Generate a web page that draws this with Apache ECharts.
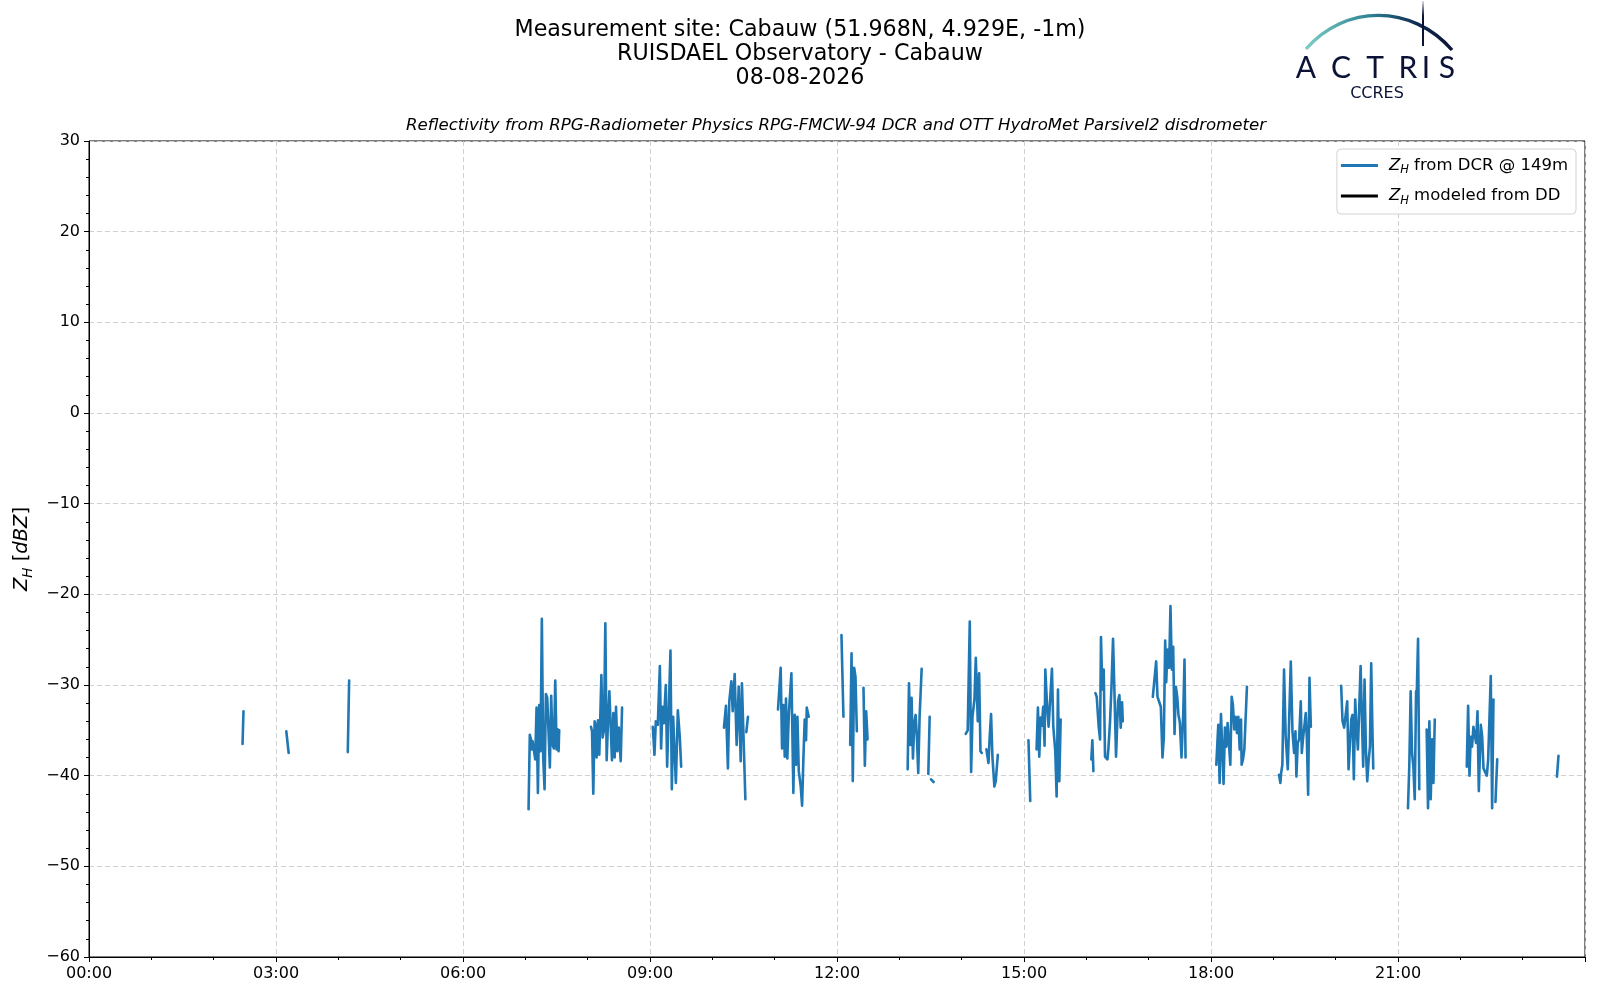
<!DOCTYPE html>
<html>
<head>
<meta charset="utf-8">
<script src="https://cdn.jsdelivr.net/npm/echarts@6/dist/echarts.min.js"></script>
<style>html,body{margin:0;padding:0;background:#fff}#c{width:1600px;height:1000px}</style>
</head>
<body>
<div id="c"></div>
<script>
// ---- data (time in minutes after 00:00 UTC, Z_H in dBZ; null = no data / gap) ----
const titleLines = ['Measurement site: Cabauw (51.968N, 4.929E, -1m)', 'RUISDAEL Observatory - Cabauw', '08-08-2026'];
const subTitle = 'Reflectivity from RPG-Radiometer Physics RPG-FMCW-94 DCR and OTT HydroMet Parsivel2 disdrometer';
const seriesNames = ['Z_H from DCR @ 149m', 'Z_H modeled from DD'];
const xTickMinutes = [0, 180, 360, 540, 720, 900, 1080, 1260];
const yTicks = [-60, -50, -40, -30, -20, -10, 0, 10, 20, 30];

const dcrTime = [
  147.8, 148.7, 170,
  189.9, 192.2, 220,
  249.1, 250.4, 330,
  423.1, 424.3, 425.5, 426.3, 427.0, 429.5, 430.8, 432.1, 433.4, 434.6, 435.9, 437.2, 438.5, 439.8, 441.1, 443.6, 444.9, 446.2, 447.5, 448.8, 450.1, 451.4, 452.0, 452.6, 470,
  483.2, 484.2, 485.4, 486.7, 488.0, 488.6, 489.9, 491.2, 493.2, 494.4, 495.7, 497.0, 498.3, 499.6, 500.9, 502.2, 503.4, 504.7, 506.0, 507.3, 508.6, 509.9, 511.8, 513.1, 530,
  542.7, 544.3, 545.6, 547.5, 549.5, 550.7, 552.0, 553.3, 555.2, 556.5, 557.8, 559.7, 561.0, 562.3, 563.6, 564.9, 566.8, 568.7, 570.0, 590,
  611.2, 613.1, 615.0, 616.3, 618.3, 619.6, 621.5, 623.4, 625.4, 627.3, 628.5, 631.8, 632.2,
  632.7, 634.3, 650,
  663.2, 665.8, 667.1, 668.4, 669.7, 670.9, 672.2, 673.6, 676.1, 678.0, 679.3, 680.6, 681.9, 683.2, 685.1, 686.4, 687.7, 688.9, 690.2, 690.9, 692.8, 710,
  724.3, 726.2, 729,
  732.7, 734.0, 735.2, 736.5, 737.8, 739.1, 742,
  745.5, 746.8, 748.1, 749.4, 770,
  788.0, 789.3, 790.5, 791.8, 793.1, 794.4, 795.7, 797.0, 798.2, 799.5, 801.5, 805,
  807.9, 809.2, 809.8,
  810.5, 813.0, 830,
  843.9, 845.8, 847.8, 849.1, 850.4, 852.3, 853.6, 855.5, 856.8, 858.1, 859.4, 861,
  863.8, 865.8, 867.0, 868.3, 869.6, 871.5, 872.8, 874.8, 890,
  904.3, 906.0, 909,
  912.1, 913.4, 914.7, 916.0, 917.2, 918.5, 919.8, 920.5, 922.4, 923.7, 925.6, 926.9, 928.2, 930.1, 931.4, 932.7, 934.0, 935.3, 950,
  964.8, 965.8, 966.8, 967.7,
  968.7, 970.0, 971.9, 973.2, 974.1, 975.4, 976.7, 978.0, 979.3, 980.3, 981.2, 982.8, 984.1, 985.7, 987.0, 988.6, 990.5, 991.8, 993.1, 994.4, 995.1, 1010,
  1024.0, 1025.9, 1027.2, 1028.5, 1030.4, 1031.7, 1033.3, 1034.6, 1035.9, 1036.9, 1038.1, 1039.7, 1041.0, 1042.3, 1043.6, 1044.9, 1046.2, 1047.5, 1048.7, 1050.0, 1051.6, 1053.3, 1054.5, 1055.5, 1070,
  1085.1, 1087.0, 1088.3, 1089.6, 1090.9, 1092.1, 1093.4, 1094.7, 1096.0, 1097.3, 1098.6, 1099.9, 1101.1, 1102.4, 1103.7, 1105.0, 1106.3, 1107.6, 1108.9, 1109.5, 1110.8, 1112.1, 1113.4, 1114.6, 1130,
  1145.5, 1146.8, 1147.5, 1148.7, 1150.3, 1151.9, 1153.9, 1155.2, 1156.8, 1158.4, 1160.0, 1161.3, 1162.2, 1163.5, 1164.8, 1166.4, 1167.4, 1168.6, 1169.9, 1171.2, 1172.2, 1173.5, 1174.8, 1176.1, 1190,
  1205.3, 1206.6, 1208.2, 1209.8, 1211.1, 1212.4, 1213.7, 1215.0, 1216.2, 1217.5, 1218.8, 1220.1, 1221.4, 1222.7, 1224.0, 1225.3, 1226.5, 1227.8, 1229.1, 1230.4, 1231.7, 1233.0, 1234.2, 1235.5, 1236.2, 1250,
  1269.6, 1270.9, 1272.2, 1273.5, 1274.8, 1276.1, 1277.4, 1278.0, 1279.3, 1280.5, 1284,
  1287.6, 1288.9, 1290.2, 1291.5, 1292.8, 1294.1, 1295.4, 1310,
  1326.2, 1327.5, 1328.8, 1330.0, 1331.3, 1332.6, 1333.9, 1335.2, 1336.5, 1337.8, 1339.7, 1341.0, 1342.3, 1344.2, 1345.5, 1346.8, 1348.1, 1349.3, 1350.6, 1351.9, 1352.8,
  1353.8, 1355.5, 1380,
  1413.0, 1414.5
];
const dcrZh = [
  -36.5, -32.9, null,
  -35.1, -37.5, null,
  -37.4, -29.5, null,
  -43.7, -35.5, -36.0, -37.1, -36.2, -38.2, -32.5, -41.9, -32.2, -37.3, -22.7, -38.0, -41.5, -31.0, -31.4, -39.1, -31.2, -36.6, -37.0, -29.5, -37.1, -34.9, -37.3, -35.0, null,
  -34.6, -35.1, -42.0, -34.0, -34.6, -38.0, -33.9, -37.7, -28.9, -35.8, -35.0, -23.2, -38.3, -33.9, -30.7, -34.7, -38.3, -33.1, -38.0, -32.4, -37.3, -34.7, -38.4, -32.5, null,
  -34.6, -37.7, -34.0, -34.4, -27.9, -37.0, -32.4, -34.2, -30.0, -39.0, -33.8, -26.2, -41.5, -33.5, -37.3, -40.8, -32.8, -35.8, -39.0, null,
  -34.7, -32.3, -39.2, -31.8, -29.6, -32.9, -28.8, -36.6, -30.2, -38.4, -29.8, -42.6, null,
  -35.2, -33.5, null,
  -32.7, -28.1, -37.0, -32.2, -37.9, -31.5, -38.1, -33.3, -28.7, -41.9, -33.3, -38.8, -33.5, -39.5, -41.2, -43.3, -37.9, -33.8, -36.1, -32.5, -33.5, null,
  -24.5, -33.5, null,
  -36.6, -26.5, -40.6, -28.1, -29.1, -35.1, null,
  -30.3, -38.9, -32.9, -36.0, null,
  -39.3, -29.8, -36.6, -31.4, -38.1, -34.2, -33.3, -36.0, -39.7, -33.5, -28.2, null,
  -39.8, -33.5, null,
  -40.4, -40.7, null,
  -35.4, -35.0, -23.0, -39.6, -33.5, -31.6, -27.0, -34.0, -28.7, -37.3, -37.5, null,
  -37.1, -38.6, -35.7, -33.2, -37.9, -41.2, -40.6, -37.7, null,
  -36.1, -42.8, null,
  -37.1, -32.5, -37.9, -33.6, -34.5, -32.4, -36.7, -28.3, -32.7, -34.6, -34.6, -28.2, -34.6, -37.3, -42.3, -30.5, -40.6, -33.8, null,
  -38.2, -36.1, -39.5, null,
  -30.9, -31.3, -34.6, -36.0, -24.7, -30.5, -28.3, -37.9, -37.8, -38.2, -37.1, -34.1, -30.5, -24.9, -30.5, -37.9, -31.8, -31.1, -34.7, -31.9, -34.0, null,
  -31.3, -31.4, -27.4, -31.3, -31.2, -32.4, -38.0, -35.8, -25.1, -29.7, -26.1, -28.1, -21.3, -28.3, -25.8, -35.4, -30.2, -31.3, -33.3, -34.1, -38.0, -33.1, -27.2, -38.0, null,
  -38.8, -34.4, -40.8, -33.2, -33.3, -40.9, -34.7, -36.8, -34.2, -34.2, -38.8, -31.3, -32.2, -34.9, -33.5, -35.3, -33.5, -37.1, -33.8, -38.8, -38.2, -37.1, -37.1, -30.2, null,
  -39.9, -40.8, -39.7, -38.8, -28.3, -35.7, -39.3, -39.5, -27.4, -35.1, -37.5, -35.1, -40.1, -36.4, -36.0, -31.8, -37.5, -35.9, -36.0, -33.1, -35.7, -42.1, -29.2, -34.6, null,
  -30.1, -34.0, -34.7, -34.6, -31.8, -39.3, -39.5, -33.8, -33.3, -40.4, -31.6, -34.9, -37.1, -32.5, -27.9, -33.8, -39.0, -29.4, -37.1, -40.6, -38.4, -36.8, -27.6, -35.7, -39.2, null,
  -43.6, -38.8, -30.7, -37.5, -39.0, -42.6, -30.7, -31.3, -24.9, -41.5, null,
  -34.9, -43.6, -34.0, -42.6, -36.0, -40.8, -33.8, null,
  -39.0, -32.3, -40.0, -35.7, -36.8, -34.6, -34.4, -36.4, -32.9, -41.7, -34.4, -35.7, -39.2, -39.3, -40.0, -38.2, -38.4, -29.0, -43.6, -31.6, null,
  -42.9, -38.2, null,
  -40.1, -37.8
];
const ddTime = [];
const ddZh = [];

// ---- chart ----
const FONT = 'DejaVu Sans';
const pad2 = n => String(n).padStart(2, '0');
const minus = s => String(s).replace('-', '\u2212');
const dcrData = dcrTime.map((t, i) => [t, dcrZh[i] == null ? '-' : dcrZh[i]]);
const ddData = ddTime.map((t, i) => [t, ddZh[i] == null ? '-' : ddZh[i]]);

const chart = echarts.init(document.getElementById('c'), null, {renderer: 'canvas'});

const ink = '#0b1236';
const logoLetters = ['A', 'C', 'T', 'R', 'I', 'S'];
const logoX = [1306, 1341, 1375, 1408, 1426, 1447];

const option = {
  backgroundColor: '#fff',
  animation: false,
  title: {
    text: titleLines.join('\n'),
    left: 'center',
    top: 18,
    padding: 0,
    textStyle: {fontFamily: FONT, fontSize: 22.2, fontWeight: 'normal', color: '#000', lineHeight: 24}
  },
  graphic: [
    {type: 'text', x: 836, y: 126, style: {text: subTitle, x: 0, y: 0, fill: '#000', fontFamily: FONT, fontSize: 16.6, fontStyle: 'italic', align: 'center', textAlign: 'center', verticalAlign: 'middle', textVerticalAlign: 'middle'}},
    {type: 'bezierCurve', shape: {x1: 1306, y1: 49, x2: 1452, y2: 50, cpx1: 1345, cpy1: 4, cpx2: 1412, cpy2: 4},
      style: {fill: 'none', lineWidth: 3.4,
        stroke: new echarts.graphic.LinearGradient(0, 0, 1, 0, [{offset: 0, color: '#7fd0c8'}, {offset: 0.45, color: '#2c7f92'}, {offset: 0.75, color: '#0e2a50'}, {offset: 1, color: ink}])}},
    {type: 'line', shape: {x1: 1423, y1: 1, x2: 1423, y2: 46},
      style: {lineWidth: 2, stroke: new echarts.graphic.LinearGradient(0, 0, 0, 1, [{offset: 0, color: 'rgba(11,18,54,0)'}, {offset: 0.35, color: ink}, {offset: 1, color: ink}])}},
    ...logoLetters.map((ch, i) => ({type: 'text', x: logoX[i], y: 68,
      style: {text: ch, x: 0, y: 0, fill: ink, fontFamily: 'Lato', fontWeight: 'normal', fontSize: 30, align: 'center', textAlign: 'center', verticalAlign: 'middle', textVerticalAlign: 'middle'}})),
    {type: 'text', x: 1377, y: 94, style: {text: 'CCRES', x: 0, y: 0, fill: ink, fontFamily: FONT, fontSize: 16, align: 'center', textAlign: 'center', verticalAlign: 'middle', textVerticalAlign: 'middle'}}
  ],
  legend: {
    right: 24, top: 149,
    orient: 'vertical', align: 'left',
    selectedMode: false,
    icon: 'rect', itemWidth: 37, itemHeight: 3, itemGap: 11,
    padding: [8, 8, 7, 4],
    borderColor: '#d3d3d3', borderWidth: 1, borderRadius: 4,
    backgroundColor: 'rgba(255,255,255,0.8)',
    data: seriesNames,
    formatter: name => '{z|Z}{h|H}{t| ' + name.slice(4) + '}',
    textStyle: {
      fontFamily: FONT, fontSize: 16.5, color: '#000', padding: [0, 0, 0, 6],
      rich: {
        z: {fontFamily: FONT, fontSize: 16.5, fontStyle: 'italic', lineHeight: 22, verticalAlign: 'middle'},
        h: {fontFamily: FONT, fontSize: 11.5, fontStyle: 'italic', lineHeight: 22, verticalAlign: 'bottom'},
        t: {fontFamily: FONT, fontSize: 16.5, lineHeight: 22, verticalAlign: 'middle'}
      }
    }
  },
  grid: {left: 89, right: 15, top: 141, bottom: 43, show: true, borderColor: '#000', borderWidth: 1, containLabel: false},
  xAxis: {
    type: 'value', min: 0, max: 1440, interval: 180,
    axisLine: {show: true, onZero: false, lineStyle: {color: '#000', width: 1}},
    axisTick: {show: true, length: 5, inside: false, lineStyle: {color: '#000'}},
    minorTick: {show: true, splitNumber: 3, length: 3, lineStyle: {color: '#000'}},
    splitLine: {show: true, lineStyle: {color: '#d0d0d0', type: [5, 3], width: 1}},
    axisLabel: {color: '#000', fontFamily: FONT, fontSize: 16, margin: 9,
      formatter: v => (xTickMinutes.indexOf(v) < 0 ? '' : pad2(Math.floor(v / 60)) + ':' + pad2(v % 60))}
  },
  yAxis: {
    type: 'value', min: yTicks[0], max: yTicks[yTicks.length - 1], interval: 10,
    name: '{z|Z}{h|H}{t| [}{z|dBZ}{t|]}',
    nameLocation: 'middle', nameRotate: 90, nameGap: 49,
    nameTextStyle: {
      fontFamily: FONT, fontSize: 19.5, color: '#000',
      rich: {
        z: {fontFamily: FONT, fontSize: 19.5, fontStyle: 'italic', lineHeight: 27, verticalAlign: 'middle'},
        h: {fontFamily: FONT, fontSize: 13.5, fontStyle: 'italic', lineHeight: 27, verticalAlign: 'bottom'},
        t: {fontFamily: FONT, fontSize: 19.5, lineHeight: 27, verticalAlign: 'middle'}
      }
    },
    axisLine: {show: true, onZero: false, lineStyle: {color: '#000', width: 1}},
    axisTick: {show: true, length: 5, inside: false, lineStyle: {color: '#000'}},
    minorTick: {show: true, splitNumber: 5, length: 3, lineStyle: {color: '#000'}},
    splitLine: {show: true, lineStyle: {color: '#d0d0d0', type: [5, 3], width: 1}},
    axisLabel: {color: '#000', fontFamily: FONT, fontSize: 16, margin: 9, formatter: v => minus(v)}
  },
  series: [
    {name: seriesNames[0], type: 'line', data: dcrData, showSymbol: false, symbol: 'none', connectNulls: false,
      lineStyle: {color: '#1f77b4', width: 2.6, join: 'round', cap: 'round'}, itemStyle: {color: '#1f77b4'}, z: 3},
    {name: seriesNames[1], type: 'line', data: ddData, showSymbol: false, symbol: 'none',
      lineStyle: {color: '#000', width: 2.6}, itemStyle: {color: '#000'}, z: 2}
  ]
};
chart.setOption(option);
</script>
</body>
</html>
